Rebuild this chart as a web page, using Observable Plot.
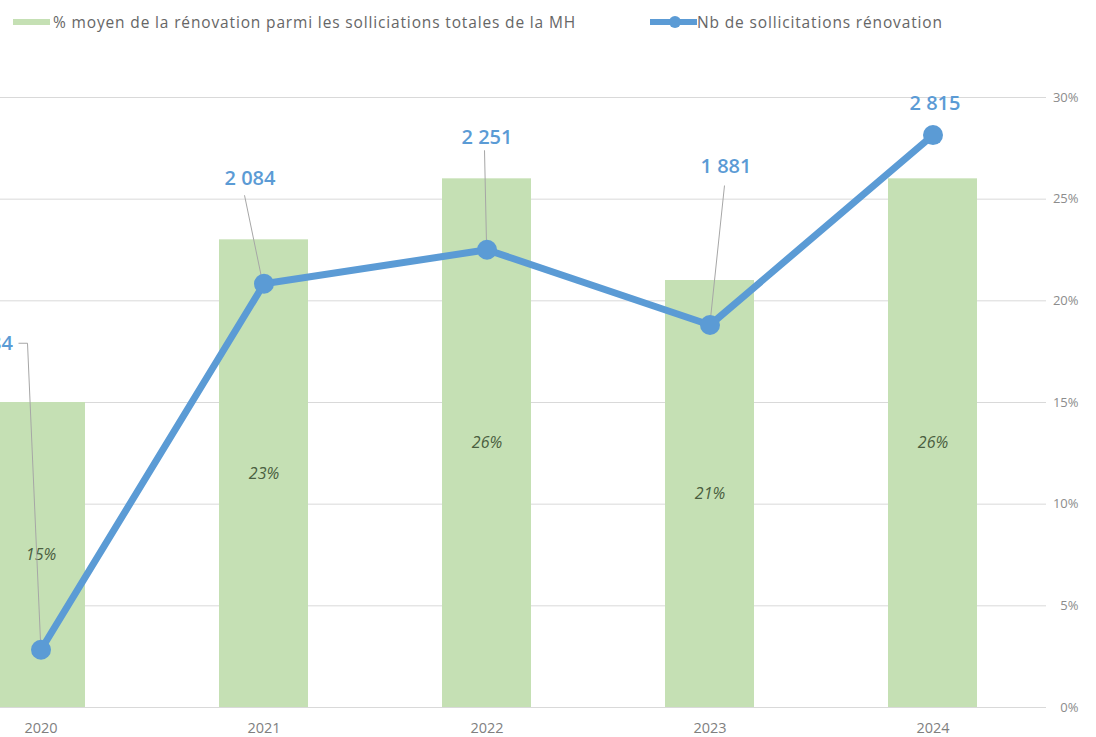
<!DOCTYPE html>
<html><head><meta charset="utf-8">
<script src="https://cdn.jsdelivr.net/npm/d3@7"></script>
<script src="https://cdn.jsdelivr.net/npm/@observablehq/plot@0.6"></script>
<style>
  html,body{margin:0;padding:0;background:#fff;overflow:hidden;}
  body{font-family:"Open Sans","Noto Sans",sans-serif;width:1096px;height:737px;}
  #legend{position:relative;height:40px;font-size:15.5px;letter-spacing:0.85px;color:#666;}
  #legend .item{position:absolute;top:11px;line-height:22px;white-space:nowrap;}
  #chart svg{display:block;}
</style>
</head><body>
<div id="legend">
  <span class="item" style="left:13px;top:19px;width:37px;height:6px;background:#C5E0B4"></span>
  <span class="item" style="left:53px" id="lg1"></span>
  <svg class="item" style="left:650px;top:12px" width="48" height="20"><line x1="0" x2="47" y1="10" y2="10" stroke="#5B9BD5" stroke-width="6"/><circle cx="25" cy="10" r="6" fill="#5B9BD5"/></svg>
  <span class="item" style="left:697px" id="lg2"></span>
</div>
<div id="chart"></div>
<script>
// ---- data ----
const years = ["2020", "2021", "2022", "2023", "2024"];
const sharePct = [0.15, 0.23, 0.26, 0.21, 0.26];          // % moyen de la rénovation
const requests = [284, 2084, 2251, 1881, 2815];           // Nb de sollicitations rénovation
const requestLabels = ["284", "2 084", "2 251", "1 881", "2 815"];
const pctTicks = [0, 0.05, 0.10, 0.15, 0.20, 0.25, 0.30];
const pctTickLabels = ["0%", "5%", "10%", "15%", "20%", "25%", "30%"];
const requestsAxisMax = 3000;   // secondary (hidden) axis max, aligned with 30%
const seriesNames = ["% moyen de la rénovation parmi les solliciations totales de la MH", "Nb de sollicitations rénovation"];

document.getElementById("lg1").textContent = seriesNames[0];
document.getElementById("lg2").textContent = seriesNames[1];

const pctMax = pctTicks[pctTicks.length - 1];
const rows = years.map((y, i) => ({
  year: y, share: sharePct[i], req: requests[i], reqLabel: requestLabels[i],
  reqY: requests[i] / requestsAxisMax * pctMax
}));
const ticks = pctTicks.map((t, i) => ({t, label: pctTickLabels[i]}));

// label layout (pixel offsets relative to each point)
const labelLayout = [
  {dx: -28, dy: -306, anchor: "end",    leader: [[-22, -306], [-13, -306], [0, -8]]},
  {dx: -14, dy: -105, anchor: "middle", leader: [[-19, -88], [-2, -6]]},
  {dx: 0,   dy: -112, anchor: "middle", leader: [[-2, -99], [0, -6]]},
  {dx: 16,  dy: -158, anchor: "middle", leader: [[15, -139], [1, -6]]},
  {dx: 2,   dy: -32,  anchor: "middle", leader: null}
];

const blue = "#5B9BD5", green = "#C5E0B4";

const chart = Plot.plot({
  width: 1096,
  height: 697,
  marginTop: 57,
  marginBottom: 30,
  marginLeft: 0,
  marginRight: 50,
  style: {fontFamily: "'Open Sans','Noto Sans',sans-serif", background: "#fff", overflow: "hidden"},
  x: {type: "band", domain: years, range: [-72, 1046], paddingInner: 0.6, paddingOuter: 0.3, label: null},
  y: {domain: [0, pctMax], range: [667, 57], label: null, axis: null},
  marks: [
    Plot.ruleY(pctTicks, {stroke: "#d9d9d9", strokeWidth: 1}),
    Plot.barY(rows, {x: "year", y: "share", fill: green}),
    Plot.text(rows, {x: "year", y: d => d.share / 2, text: d => Math.round(d.share * 100) + "%",
      fontStyle: "italic", fontSize: 16, fill: "#4a5e40"}),
    Plot.line(rows, {x: "year", y: "reqY", stroke: blue, strokeWidth: 7, strokeLinejoin: "round", strokeLinecap: "round"}),
    Plot.dot(rows, {x: "year", y: "reqY", r: 10, fill: blue, stroke: null}),
    ...rows.map((r, i) => Plot.text([r], {x: "year", y: "reqY", text: "reqLabel",
      dx: labelLayout[i].dx, dy: labelLayout[i].dy, textAnchor: labelLayout[i].anchor,
      fontSize: 20, fill: blue, fontWeight: 600})),
    Plot.axisX({tickSize: 0, tickPadding: 15, fontSize: 14.5, color: "#7f7f7f", label: null,
      style: {letterSpacing: "0.6px"}}),
    Plot.text(ticks, {y: "t", text: "label", frameAnchor: "right", dx: 32, textAnchor: "end",
      fontSize: 13, fill: "#8c8c8c"})
  ]
});
document.getElementById("chart").appendChild(chart);

// leader lines, positioned with Plot's own scales
const sx = chart.scale("x"), sy = chart.scale("y");
const svg = d3.select(chart);
const g = svg.insert("g", "g[aria-label='line']").attr("fill", "none").attr("stroke", "#a6a6a6").attr("stroke-width", 1);
rows.forEach((r, i) => {
  const L = labelLayout[i].leader;
  if (!L) return;
  const px = sx.apply(r.year) + sx.bandwidth / 2;
  const py = sy.apply(r.reqY);
  g.append("path").attr("d", d3.line()(L.map(([a, b]) => [px + a, py + b])));
});
</script>
</body></html>
